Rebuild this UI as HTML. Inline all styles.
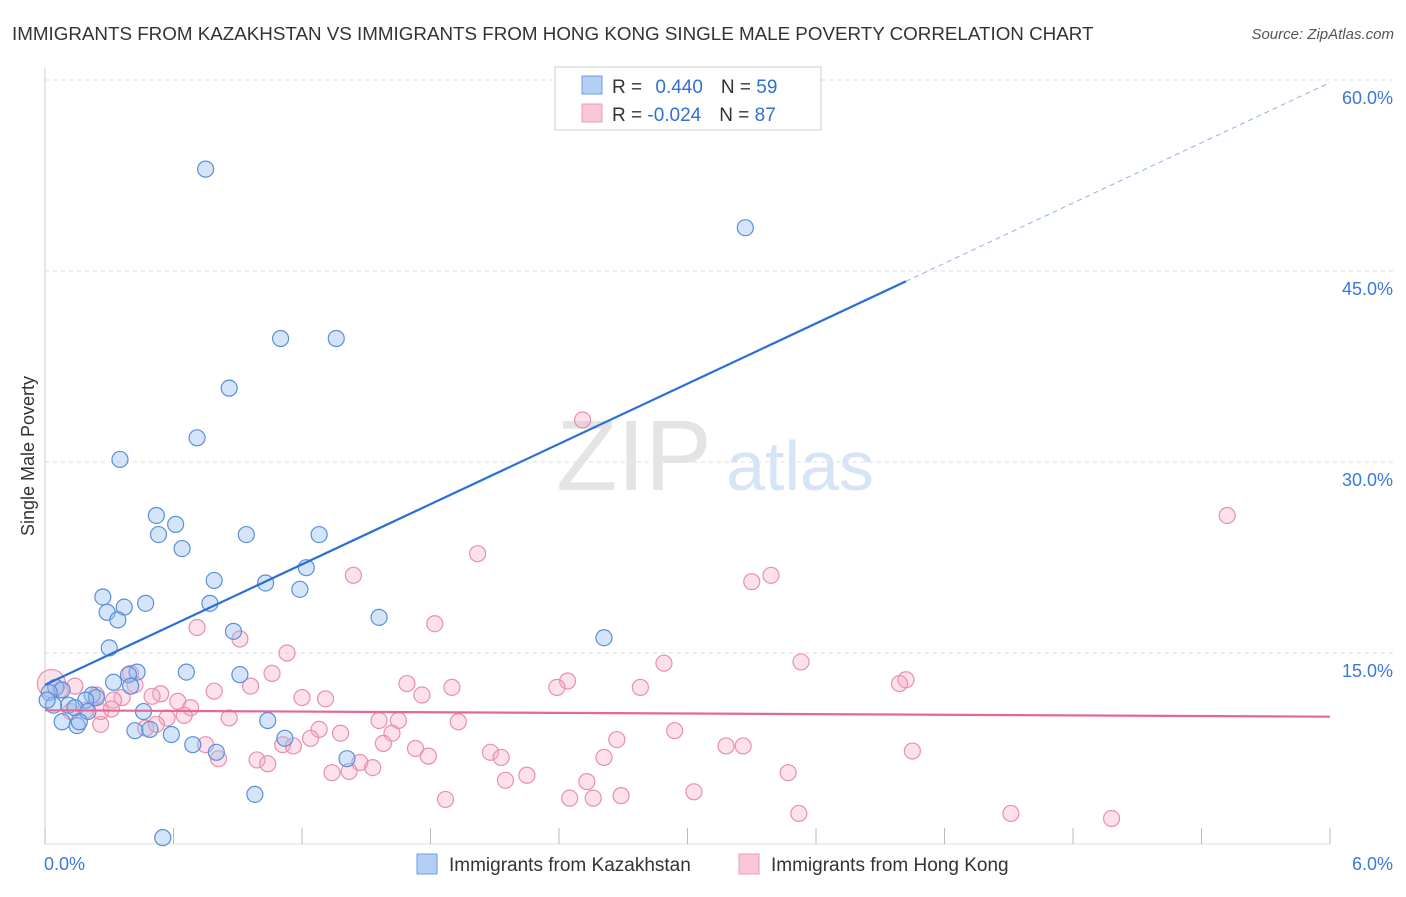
<!DOCTYPE html>
<html><head><meta charset="utf-8"><style>
body{margin:0;background:#fff;font-family:"Liberation Sans",sans-serif;}
svg text{font-family:"Liberation Sans",sans-serif;}
</style></head><body>
<svg id="chart" width="1406" height="892" xmlns="http://www.w3.org/2000/svg">
<text x="12" y="40" font-size="18.8" fill="#333">IMMIGRANTS FROM KAZAKHSTAN VS IMMIGRANTS FROM HONG KONG SINGLE MALE POVERTY CORRELATION CHART</text>
<text x="1394" y="39" font-size="15" fill="#555" font-style="italic" text-anchor="end">Source: ZipAtlas.com</text>
<text x="0" y="0" font-size="18" fill="#333" text-anchor="middle" transform="translate(34,456) rotate(-90)">Single Male Poverty</text>
<g id="grid"></g>
<text x="634" y="490" font-size="100" fill="#e4e4e4" font-family="Liberation Serif" text-anchor="middle">ZIP</text>
<text x="800" y="490" font-size="70" fill="#d6e4f5" text-anchor="middle">atlas</text>
<g id="points"></g>
<g id="lines"></g>
<g>
<rect x="555" y="67" width="266" height="63" fill="#fff" stroke="#ccc"/>
<rect x="582" y="76" width="20" height="18" fill="#b3cff3" stroke="#6a9ee0"/>
<rect x="582" y="104" width="20" height="18" fill="#f9c8d7" stroke="#ec9cb6"/>
<text x="612" y="93" font-size="19" fill="#333">R = <tspan fill="#2f6fd6" dx="8">0.440</tspan><tspan dx="18" fill="#333">N = </tspan><tspan fill="#2f6fd6">59</tspan></text>
<text x="612" y="121" font-size="19" fill="#333">R = <tspan fill="#2f6fd6">-0.024</tspan><tspan dx="18" fill="#333">N = </tspan><tspan fill="#2f6fd6">87</tspan></text>
</g>
<g>
<rect x="417" y="854" width="20" height="20" fill="#b3cff3" stroke="#6a9ee0"/>
<text x="449" y="871" font-size="19" fill="#333">Immigrants from Kazakhstan</text>
<rect x="739" y="854" width="20" height="20" fill="#f9c8d7" stroke="#ec9cb6"/>
<text x="771" y="871" font-size="19" fill="#333">Immigrants from Hong Kong</text>
</g>
</svg>
<script>
const xTicks=[0,0.6,1.2,1.8,2.4,3.0,3.6,4.2,4.8,5.4,6.0];
const yTicks=[15,30,45,60];
const yTickLabels=["15.0%","30.0%","45.0%","60.0%"];
const xTickLabels=["0.0%","6.0%"];
const kazX=[0.75,3.27,1.10,1.36,0.86,0.71,0.35,0.52,0.61,0.53,0.94,1.28,0.64,0.79,1.22,1.03,1.19,0.27,0.47,0.77,0.37,0.29,0.34,1.56,2.61,0.88,0.30,0.43,0.39,0.66,0.91,0.32,0.40,0.05,0.08,0.02,0.22,0.24,0.19,0.11,0.14,0.20,0.46,0.08,0.15,0.16,1.04,0.42,0.49,0.59,1.12,0.69,0.80,1.41,0.98,0.55,0.04,0.01];
const kazY=[53.0,48.4,39.7,39.7,35.8,31.9,30.2,25.8,25.1,24.3,24.3,24.3,23.2,20.7,21.7,20.5,20.0,19.4,18.9,18.9,18.6,18.2,17.6,17.8,16.2,16.7,15.4,13.5,13.3,13.5,13.3,12.7,12.4,12.3,12.1,11.9,11.7,11.5,11.3,10.9,10.7,10.4,10.4,9.6,9.3,9.6,9.7,8.9,9.0,8.6,8.3,7.8,7.2,6.7,3.9,0.5,10.9,11.3];
const hkX=[2.51,5.52,2.02,1.44,3.30,3.39,1.82,0.71,0.91,1.13,2.89,3.53,1.06,4.02,3.99,2.44,2.39,2.78,1.90,1.69,0.96,0.79,0.54,0.50,0.62,0.36,0.32,1.20,1.31,1.76,0.68,0.65,0.57,0.86,0.26,1.56,1.65,1.93,1.28,1.38,1.62,2.94,0.47,1.24,0.75,1.11,1.16,1.58,2.67,3.18,3.26,4.05,1.73,1.79,2.08,2.13,2.61,0.81,0.99,1.04,1.47,1.53,1.34,1.42,2.25,2.15,2.53,3.47,3.03,2.69,2.56,2.45,1.87,3.52,4.51,4.98,0.40,0.14,0.07,0.03,0.26,0.31,0.19,0.42,0.52,0.24,0.12];
const hkY=[33.3,25.8,22.8,21.1,20.6,21.1,17.3,17.0,16.1,15.0,14.2,14.3,13.4,12.9,12.6,12.8,12.3,12.3,12.3,12.6,12.4,12.0,11.8,11.6,11.2,11.5,11.3,11.5,11.4,11.7,10.7,10.1,9.9,9.9,9.4,9.7,9.7,9.6,9.0,8.7,8.7,8.9,9.1,8.3,7.8,7.8,7.7,7.9,8.2,7.7,7.7,7.3,7.5,6.9,7.2,6.8,6.8,6.7,6.6,6.3,6.4,6.0,5.6,5.7,5.4,5.0,4.9,5.6,4.1,3.8,3.6,3.6,3.5,2.4,2.4,2.0,13.4,12.4,12.1,12.6,10.4,10.6,10.5,12.5,9.4,11.7,10.4];
const kazTrend=[12.5,59.8];
const hkTrend=[10.5,10.0];
const NS="http://www.w3.org/2000/svg";
const X0=45,X1=1330,Y0=844,YPX=191/15;
function sx(v){return X0+(X1-X0)*v/6;}
function sy(v){return Y0-v*YPX;}
function mk(t,a,p){const e=document.createElementNS(NS,t);for(const k in a)e.setAttribute(k,a[k]);p.appendChild(e);return e;}
const grid=document.getElementById('grid');
const ax=mk('line',{x1:X0,y1:68,x2:X0,y2:Y0,stroke:'#ccc'},grid);


const bx=mk('line',{x1:X0,y1:Y0,x2:X1,y2:Y0,stroke:'#ddd'},grid);


yTicks.forEach((v,i)=>{
 const g=mk('line',{x1:X0,y1:sy(v),x2:1394,y2:sy(v),stroke:'#ddd','stroke-dasharray':'4,4'},grid);
 
 
 const t=mk('text',{x:1393,y:sy(v)+24,'font-size':18,fill:'#3b78d8','text-anchor':'end'},grid);
 t.textContent=yTickLabels[i];
 
 
});
xTicks.forEach(v=>{
 const l=mk('line',{x1:sx(v),y1:Y0-16,x2:sx(v),y2:Y0,stroke:'#bbb'},grid);
 
 
});
[[0,'start',44],[6,'end',1393]].forEach((d,i)=>{
 const t=mk('text',{x:d[2],y:870,'font-size':18,fill:'#3b78d8','text-anchor':d[1]},grid);
 t.textContent=xTickLabels[i];
 
 
});
const pts=document.getElementById('points');
hkX.forEach((x,i)=>{
 const c=mk('circle',{cx:sx(x),cy:sy(hkY[i]),r:i==79?14:8,fill:'rgba(245,170,195,0.35)',stroke:'#e98fae','stroke-width':1.2},pts);
 
 
});
kazX.forEach((x,i)=>{
 const c=mk('circle',{cx:sx(x),cy:sy(kazY[i]),r:8,fill:'rgba(150,190,240,0.4)',stroke:'#5a8fd8','stroke-width':1.2},pts);
 
 
});
const ln=document.getElementById('lines');
const xs=4.02;
const kyMid=kazTrend[0]+(kazTrend[1]-kazTrend[0])*xs/6;
const k1=mk('line',{x1:sx(0),y1:sy(kazTrend[0]),x2:sx(xs),y2:sy(kyMid),stroke:'#2a6fd6','stroke-width':2.2},ln);


const k2=mk('line',{x1:sx(xs),y1:sy(kyMid),x2:sx(6),y2:sy(kazTrend[1]),stroke:'#8fb2e6','stroke-width':1,'stroke-dasharray':'5,4'},ln);


const h1=mk('line',{x1:sx(0),y1:sy(hkTrend[0]),x2:sx(6),y2:sy(hkTrend[1]),stroke:'#e5679a','stroke-width':2.2},ln);


</script>
</body></html>
